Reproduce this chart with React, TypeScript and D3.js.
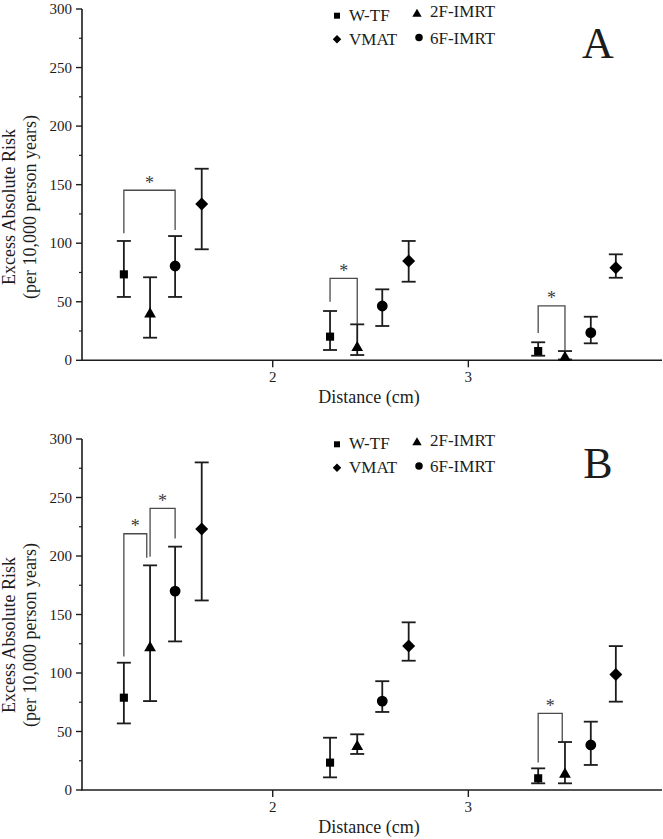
import React from "react";
import * as d3 from "d3";

// ---- data ----
const seriesNames = ["W-TF", "2F-IMRT", "6F-IMRT", "VMAT"];
const seriesShapes = ["square", "triangle", "circle", "diamond"];

// x positions (cm) of each series in the three distance groups
const distWTF = [1.239, 2.293, 3.357];
const dist2F = [1.373, 2.432, 3.494];
const dist6F = [1.501, 2.56, 3.626];
const distVMAT = [1.637, 2.695, 3.754];

// Panel A
const aWTF = [73.4, 20.2, 7.9];
const aWTFLo = [54.1, 8.8, 3.9];
const aWTFHi = [101.9, 42.1, 15.4];
const a2F = [41, 12.2, 3.7];
const a2FLo = [19.3, 4.5, 0.7];
const a2FHi = [70.9, 30.7, 7.9];
const a6F = [80.5, 46.4, 23.6];
const a6FLo = [54.1, 29.3, 14.5];
const a6FHi = [106.1, 60.6, 37.2];
const aVMAT = [133.5, 84.8, 79.1];
const aVMATLo = [94.8, 67.1, 70.5];
const aVMATHi = [163.6, 101.9, 90.5];

// Panel B
const bWTF = [78.9, 23.4, 10];
const bWTFLo = [56.9, 10.8, 5.7];
const bWTFHi = [108.8, 44.7, 18.5];
const b2F = [123, 38.5, 14.8];
const b2FLo = [76, 30.8, 5.7];
const b2FHi = [192, 47.6, 41];
const b6F = [170, 76, 38.5];
const b6FLo = [127, 66.7, 21.4];
const b6FHi = [208, 93, 58.4];
const bVMAT = [223, 123, 98.8];
const bVMATLo = [162, 110.5, 75.5];
const bVMATHi = [280, 143.3, 123];

// significance brackets: [x1, x2, top, leftLegBottom, rightLegBottom]
const bracketsA = [
  [1.239, 1.501, 145.2, 108.5, 111.3],
  [2.293, 2.432, 70, 50, 30.7],
  [3.357, 3.494, 46.4, 23.3, 8.8],
];
const bracketsB = [
  [1.239, 1.356, 219, 114, 198.5],
  [1.373, 1.501, 240.7, 199.4, 215],
  [3.357, 3.48, 65.5, 23.4, 41],
];

const yTicks = [0, 50, 100, 150, 200, 250, 300];
const yMinorTicks = [25, 75, 125, 175, 225, 275];
const xTicks = [2, 3];

// ---- layout ----
const W = 663;
const H = 839;
const FONT = "'Liberation Serif', 'Times New Roman', Times, serif";
const INK = "#1c1c1c";
const xScale = d3.scaleLinear().domain([1.025, 3.99]).range([82, 662]);

function markerPath(shape: string, size: number): { d: string; dy: number; rot: number } {
  if (shape === "square") return { d: d3.symbol(d3.symbolSquare, size)()!, dy: 0, rot: 0 };
  if (shape === "circle") return { d: d3.symbol(d3.symbolCircle, size)()!, dy: 0, rot: 0 };
  if (shape === "diamond") return { d: d3.symbol(d3.symbolSquare, size)()!, dy: 0, rot: 45 };
  // triangle: shift so bounding box is centered
  const s = Math.sqrt(size / (Math.sqrt(3) / 4));
  const h = (s * Math.sqrt(3)) / 2;
  return { d: d3.symbol(d3.symbolTriangle, size)()!, dy: h / 6, rot: 0 };
}

const plotSizes: Record<string, number> = { square: 66, circle: 92, diamond: 84, triangle: 60 };
const legendSizes: Record<string, number> = { square: 36, circle: 44, diamond: 36, triangle: 38 };

type Series = { x: number[]; v: number[]; lo: number[]; hi: number[] };

function Panel(props: {
  top: number;
  bottom: number;
  series: Series[];
  brackets: number[][];
  label: string;
  labelBaseline: number;
  legendBaseline: number;
  titleCenterY: number;
}) {
  const { top, bottom, series, brackets, label, labelBaseline, legendBaseline, titleCenterY } = props;
  const y = d3.scaleLinear().domain([0, 300]).range([bottom, top]);
  const x0 = xScale.range()[0];
  const x1 = xScale.range()[1];

  const legendItems = [
    { name: seriesNames[0], shape: seriesShapes[0], mx: 337, tx: 349, base: legendBaseline, my: -5 },
    { name: seriesNames[1], shape: seriesShapes[1], mx: 417, tx: 430, base: legendBaseline - 3.4, my: -4.6 },
    { name: seriesNames[3], shape: seriesShapes[3], mx: 337, tx: 349, base: legendBaseline + 23.8, my: -5.3 },
    { name: seriesNames[2], shape: seriesShapes[2], mx: 419, tx: 430, base: legendBaseline + 22.8, my: -6 },
  ];

  return (
    <g>
      {/* y axis */}
      <line x1={x0} x2={x0} y1={top} y2={bottom} stroke={INK} strokeWidth={1.6} />
      {yTicks.map((t) => (
        <g key={"yt" + t}>
          <line x1={x0 - 6} x2={x0} y1={y(t)} y2={y(t)} stroke={INK} strokeWidth={1.4} />
          <text
            x={x0 - 10}
            y={y(t) + 5}
            textAnchor="end"
            fontSize={15}
            fontFamily={FONT}
            fill={INK}
          >
            {t}
          </text>
        </g>
      ))}
      {yMinorTicks.map((t) => (
        <line key={"ym" + t} x1={x0 - 3} x2={x0} y1={y(t)} y2={y(t)} stroke={INK} strokeWidth={1.2} />
      ))}
      {/* x axis */}
      <line x1={x0 - 1} x2={x1} y1={bottom} y2={bottom} stroke={INK} strokeWidth={1.6} />
      {xTicks.map((t) => (
        <g key={"xt" + t}>
          <line x1={xScale(t)} x2={xScale(t)} y1={bottom} y2={bottom + 7} stroke={INK} strokeWidth={1.4} />
          <text x={xScale(t)} y={bottom + 22} textAnchor="middle" fontSize={15} fontFamily={FONT} fill={INK}>
            {t}
          </text>
        </g>
      ))}
      <text x={369} y={bottom + 43} textAnchor="middle" fontSize={18} fontFamily={FONT} fill={INK}>
        Distance (cm)
      </text>
      {/* y title */}
      <text
        transform={`translate(15,${titleCenterY}) rotate(-90)`}
        textAnchor="middle"
        fontSize={18}
        fontFamily={FONT}
        fill={INK}
      >
        Excess Absolute Risk
      </text>
      <text
        transform={`translate(36,${titleCenterY}) rotate(-90)`}
        textAnchor="middle"
        fontSize={18}
        fontFamily={FONT}
        fill={INK}
      >
        (per 10,000 person years)
      </text>

      {/* brackets */}
      {brackets.map((b, i) => {
        const [bx1, bx2, bt, bl1, bl2] = b;
        const px1 = xScale(bx1);
        const px2 = xScale(bx2);
        const pt = y(bt);
        return (
          <g key={"br" + i}>
            <path
              d={`M${px1},${y(bl1)} V${pt} H${px2} V${y(bl2)}`}
              fill="none"
              stroke="#4a4a4a"
              strokeWidth={1.3}
            />
            <text
              x={(px1 + px2) / 2}
              y={pt - 1.5}
              textAnchor="middle"
              fontSize={18}
              fontFamily={FONT}
              fill="#3a3a3a"
            >
              *
            </text>
          </g>
        );
      })}

      {/* error bars and markers */}
      {series.map((s, si) => {
        const shape = seriesShapes[si];
        const m = markerPath(shape, plotSizes[shape]);
        return (
          <g key={"s" + si}>
            {s.x.map((xv, i) => {
              const px = xScale(xv);
              return (
                <g key={i}>
                  <line x1={px} x2={px} y1={y(s.lo[i])} y2={y(s.hi[i])} stroke={INK} strokeWidth={1.8} />
                  <line x1={px - 7} x2={px + 7} y1={y(s.lo[i])} y2={y(s.lo[i])} stroke={INK} strokeWidth={1.8} />
                  <line x1={px - 7} x2={px + 7} y1={y(s.hi[i])} y2={y(s.hi[i])} stroke={INK} strokeWidth={1.8} />
                  <path
                    d={m.d}
                    transform={`translate(${px},${y(s.v[i]) + m.dy}) rotate(${m.rot})`}
                    fill="#000"
                  />
                </g>
              );
            })}
          </g>
        );
      })}

      {/* legend */}
      {legendItems.map((it) => {
        const m = markerPath(it.shape, legendSizes[it.shape]);
        return (
          <g key={"lg" + it.name}>
            <path d={m.d} transform={`translate(${it.mx},${it.base + it.my + m.dy}) rotate(${m.rot})`} fill="#000" />
            <text x={it.tx} y={it.base} fontSize={17} fontFamily={FONT} fill={INK}>
              {it.name}
            </text>
          </g>
        );
      })}

      {/* panel label */}
      <text x={598} y={labelBaseline} textAnchor="middle" fontSize={44} fontFamily={FONT} fill={INK}>
        {label}
      </text>
    </g>
  );
}

export default function App() {
  const seriesA: Series[] = [
    { x: distWTF, v: aWTF, lo: aWTFLo, hi: aWTFHi },
    { x: dist2F, v: a2F, lo: a2FLo, hi: a2FHi },
    { x: dist6F, v: a6F, lo: a6FLo, hi: a6FHi },
    { x: distVMAT, v: aVMAT, lo: aVMATLo, hi: aVMATHi },
  ];
  const seriesB: Series[] = [
    { x: distWTF, v: bWTF, lo: bWTFLo, hi: bWTFHi },
    { x: dist2F, v: b2F, lo: b2FLo, hi: b2FHi },
    { x: dist6F, v: b6F, lo: b6FLo, hi: b6FHi },
    { x: distVMAT, v: bVMAT, lo: bVMATLo, hi: bVMATHi },
  ];
  return (
    <svg
      width={W}
      height={H}
      viewBox={`0 0 ${W} ${H}`}
      style={{ position: "absolute", left: 0, top: 0, background: "#fff" }}
    >
      <rect width={W} height={H} fill="#fff" />
      <Panel
        top={9}
        bottom={360.3}
        series={seriesA}
        brackets={bracketsA}
        label="A"
        labelBaseline={58}
        legendBaseline={20.7}
        titleCenterY={207}
      />
      <Panel
        top={439}
        bottom={790}
        series={seriesB}
        brackets={bracketsB}
        label="B"
        labelBaseline={478.3}
        legendBaseline={449.3}
        titleCenterY={635}
      />
    </svg>
  );
}
